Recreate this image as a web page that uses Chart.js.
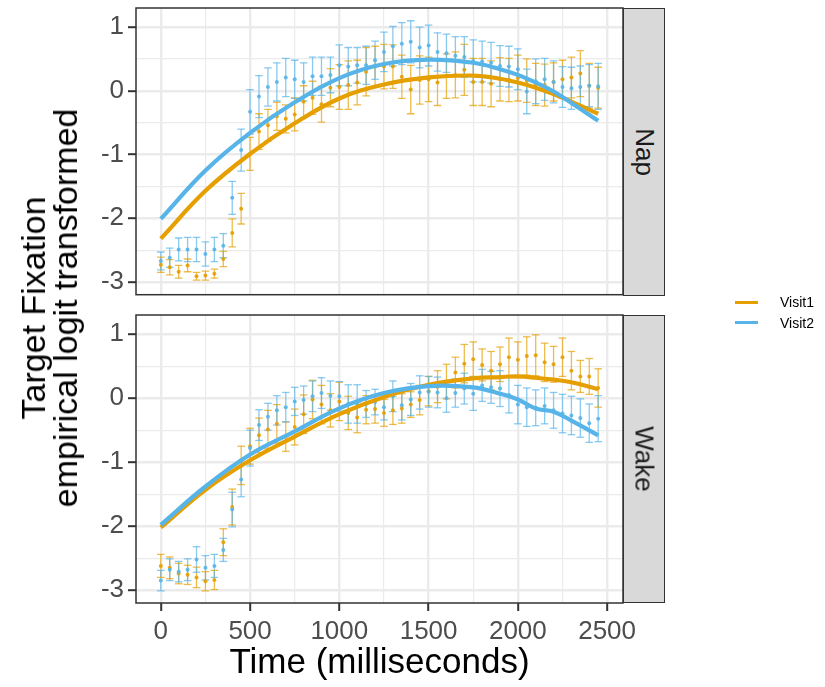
<!DOCTYPE html>
<html lang="en">
<head>
<meta charset="UTF-8">
<title>Target fixation by visit</title>
<script src="https://cdn.jsdelivr.net/npm/chart.js@4.4.1/dist/chart.umd.min.js"></script>
<style>
  body { margin: 0; background: #fff; font-family: "Liberation Sans", Arial, sans-serif; }
  #wrap { position: relative; width: 825px; height: 687px; overflow: hidden; }
  canvas { position: absolute; left: 0; }
  .strip { position: absolute; left: 623px; width: 42px; background: #d9d9d9; border: 1.5px solid #333; box-sizing: border-box; }
  .strip span { position: absolute; left: 50%; top: 50%; transform: translate(-50%, -50%) rotate(90deg); font-size: 26px; color: #1a1a1a; white-space: nowrap; }
  #ytitle { position: absolute; left: 49px; top: 308px; transform: translate(-50%, -50%) rotate(-90deg); font-size: 34px; line-height: 32px; text-align: center; white-space: nowrap; color: #000; }
  .lg { position: absolute; left: 735px; height: 0; }
  .lg i { position: absolute; left: 0; top: -1.5px; width: 23px; height: 3px; }
  .lg span { position: absolute; left: 45px; top: 0; transform: translateY(-50%); font-size: 14px; white-space: nowrap; color: #000; }
</style>
</head>
<body>
<div id="wrap">
  <canvas id="napChart" width="825" height="300" style="top:0"></canvas>
  <canvas id="wakeChart" width="825" height="387" style="top:300px"></canvas>
  <div id="ytitle"><div>Target Fixation</div><div>empirical logit transformed</div></div>
  <div class="strip" style="top:8px;height:288px"><span>Nap</span></div>
  <div class="strip" style="top:315px;height:288px"><span>Wake</span></div>
  <div id="legend"></div>
</div>
<script>
// time bins (ms)
const times = [0,50,100,150,200,250,300,350,400,450,500,550,600,650,700,750,800,850,900,950,
  1000,1050,1100,1150,1200,1250,1300,1350,1400,1450,1500,1550,1600,1650,1700,1750,1800,1850,1900,1950,
  2000,2050,2100,2150,2200,2250,2300,2350,2400,2450];

const seriesNames = ['Visit1', 'Visit2'];
const seriesColors = ['#E69F00', '#56B4E9'];

const xTicks = [0, 500, 1000, 1500, 2000, 2500];
const xMinor = [250, 750, 1250, 1750, 2250];
const yTicks = [-3, -2, -1, 0, 1];
const yMinor = [-2.5, -1.5, -0.5, 0.5];

// Nap panel: means and error half-widths
const napV1 = [-2.73,-2.77,-2.84,-2.74,-2.91,-2.90,-2.87,-2.64,-2.23,-1.85,
  -0.99,-0.64,-0.54,-0.40,-0.44,-0.37,-0.17,-0.11,-0.21,0.05,
  0.06,0.09,0.13,0.30,0.38,0.38,0.38,0.22,0.02,0.17,
  0.18,0.13,0.23,0.25,0.33,0.14,0.14,0.11,0.18,0.17,
  0.20,0.16,0.10,0.09,0.14,0.18,0.21,0.27,0.08,0.05];
const napV1Err = [0.12,0.12,0.10,0.10,0.06,0.07,0.07,0.12,0.22,0.24,
  0.26,0.28,0.25,0.22,0.22,0.26,0.25,0.26,0.28,0.30,
  0.35,0.38,0.35,0.38,0.32,0.35,0.34,0.34,0.38,0.38,
  0.35,0.36,0.35,0.36,0.40,0.37,0.37,0.36,0.34,0.34,
  0.36,0.34,0.33,0.33,0.30,0.30,0.32,0.36,0.35,0.32];
const napV2 = [-2.67,-2.62,-2.49,-2.49,-2.49,-2.56,-2.49,-2.43,-1.68,-0.93,
  -0.33,-0.09,0.06,0.14,0.21,0.18,0.14,0.23,0.23,0.25,
  0.40,0.38,0.40,0.40,0.48,0.61,0.70,0.74,0.77,0.68,
  0.71,0.61,0.59,0.55,0.53,0.47,0.46,0.44,0.39,0.38,
  0.34,-0.01,0.15,0.18,0.14,0.06,0.04,0.06,0.08,0.07];
const napV2Err = [0.14,0.15,0.18,0.19,0.19,0.19,0.19,0.19,0.26,0.33,
  0.35,0.33,0.30,0.30,0.30,0.30,0.30,0.30,0.30,0.28,
  0.32,0.30,0.28,0.30,0.30,0.31,0.31,0.33,0.33,0.32,
  0.32,0.30,0.30,0.30,0.32,0.33,0.32,0.32,0.32,0.32,
  0.32,0.35,0.35,0.33,0.33,0.32,0.33,0.33,0.33,0.36];

// Wake panel
const wakeV1 = [-2.62,-2.65,-2.74,-2.76,-2.80,-2.86,-2.84,-2.25,-1.70,-1.05,
  -0.75,-0.58,-0.49,-0.40,-0.60,-0.45,-0.25,-0.02,-0.10,-0.19,
  -0.05,-0.23,-0.30,-0.18,-0.17,-0.23,-0.19,-0.16,-0.10,-0.03,
  0.11,0.18,0.26,0.40,0.54,0.61,0.52,0.43,0.53,0.64,
  0.60,0.66,0.67,0.56,0.53,0.64,0.43,0.34,0.34,0.16];
const wakeV1Err = [0.18,0.17,0.16,0.15,0.16,0.15,0.15,0.21,0.28,0.30,
  0.28,0.27,0.30,0.30,0.23,0.28,0.30,0.30,0.30,0.26,
  0.30,0.26,0.24,0.22,0.22,0.21,0.22,0.23,0.20,0.23,
  0.23,0.25,0.27,0.24,0.30,0.27,0.25,0.30,0.27,0.30,
  0.28,0.30,0.32,0.30,0.28,0.30,0.30,0.25,0.28,0.30];
const wakeV2 = [-2.85,-2.68,-2.71,-2.68,-2.52,-2.65,-2.62,-2.37,-1.74,-1.27,
  -0.78,-0.42,-0.29,-0.19,-0.14,-0.05,-0.03,0.03,0.08,0.04,
  0.03,-0.09,-0.09,-0.09,-0.06,-0.14,0.03,-0.11,-0.02,0.09,
  0.10,0.09,0.00,0.08,0.15,0.07,0.20,0.17,0.15,0.05,
  -0.10,-0.14,-0.15,-0.12,-0.19,-0.24,-0.27,-0.31,-0.39,-0.32];
const wakeV2Err = [0.16,0.17,0.16,0.17,0.20,0.19,0.18,0.18,0.27,0.27,
  0.28,0.24,0.21,0.23,0.23,0.22,0.22,0.24,0.24,0.23,
  0.23,0.30,0.30,0.21,0.20,0.20,0.24,0.23,0.25,0.26,
  0.24,0.24,0.22,0.22,0.24,0.26,0.25,0.25,0.28,0.28,
  0.30,0.30,0.28,0.28,0.28,0.30,0.30,0.30,0.30,0.36];

// fitted curves
const fitTime = [0,250,500,750,1000,1250,1500,1750,1900,2000,2100,2200,2300,2450];
const napV1Fit  = [-2.32,-1.57,-0.99,-0.51,-0.12,0.10,0.21,0.24,0.19,0.13,0.05,-0.05,-0.17,-0.36];
const napV2Fit  = [-2.01,-1.25,-0.66,-0.18,0.20,0.42,0.49,0.44,0.34,0.25,0.13,-0.01,-0.19,-0.47];
const wakeV1Fit = [-2.02,-1.43,-0.97,-0.60,-0.25,0.02,0.21,0.31,0.33,0.34,0.32,0.29,0.25,0.14];
const wakeV2Fit = [-1.98,-1.38,-0.88,-0.52,-0.16,0.08,0.19,0.17,0.07,-0.02,-0.16,-0.21,-0.35,-0.58];

Chart.defaults.font.family = "'Liberation Sans', Arial, sans-serif";

function rgba(hex, a) {
  const n = parseInt(hex.slice(1), 16);
  return `rgba(${n >> 16},${(n >> 8) & 255},${n & 255},${a})`;
}

const xGrid = xTicks.concat(xMinor).sort((a, b) => a - b);
const yGrid = yTicks.concat(yMinor).sort((a, b) => a - b);
const isMajor = (list) => (ctx) => ctx.tick && list.includes(ctx.tick.value);

const panelBorder = {
  id: 'panelBorder',
  afterDatasetsDraw(chart) {
    const { ctx, chartArea: a } = chart;
    ctx.save();
    ctx.strokeStyle = '#333';
    ctx.lineWidth = 1.5;
    ctx.strokeRect(a.left, a.top, a.right - a.left, a.bottom - a.top);
    ctx.restore();
  }
};

function makePanel(id, v1, v1Err, v2, v2Err, v1Fit, v2Fit, isBottom) {
  const groups = [
    { mean: v1, err: v1Err, fit: v1Fit, color: seriesColors[0] },
    { mean: v2, err: v2Err, fit: v2Fit, color: seriesColors[1] }
  ];
  const datasets = [];
  groups.forEach((g, k) => {
    datasets.push({
      type: 'line',
      data: fitTime.map((t, i) => ({ x: t, y: g.fit[i] })),
      borderColor: g.color, borderWidth: 4.2, pointRadius: 0,
      tension: 0.4, order: 2 - k
    });
    datasets.push({
      type: 'scatter',
      data: times.map((t, i) => ({ x: t, y: g.mean[i] })),
      pointRadius: 2, pointBorderWidth: 0,
      pointBackgroundColor: rgba(g.color, 0.9), order: 10 - k
    });
    datasets.push({
      type: 'scatter',
      data: times.flatMap((t, i) => [
        { x: t, y: g.mean[i] - g.err[i] },
        { x: t, y: g.mean[i] + g.err[i] }
      ]),
      pointStyle: 'line', pointRadius: 3.8, pointBorderWidth: 1.3,
      pointBorderColor: rgba(g.color, 0.7), order: 20 - k
    });
    datasets.push({
      type: 'bar',
      data: times.map((t, i) => ({ x: t, y: [g.mean[i] - g.err[i], g.mean[i] + g.err[i]] })),
      backgroundColor: rgba(g.color, 0.7), borderWidth: 0,
      grouped: false, maxBarThickness: 1.3, order: 30 - k
    });
  });

  return new Chart(document.getElementById(id), {
    type: 'scatter',
    data: { datasets },
    options: {
      responsive: false,
      animation: false,
      events: [],
      layout: { padding: { left: 0, right: 202, top: isBottom ? 15 : 8, bottom: 0 } },
      plugins: { legend: { display: false }, tooltip: { enabled: false } },
      scales: {
        x: {
          type: 'linear', min: -139, max: 2589, offset: false,
          afterBuildTicks: s => { s.ticks = xGrid.map(v => ({ value: v })); },
          afterFit: s => { s.height = isBottom ? 84 : 4; s.paddingLeft = 0; s.paddingRight = 0; },
          grid: {
            offset: false, color: '#ebebeb',
            lineWidth: ctx => isMajor(xTicks)(ctx) ? 2.4 : 1.2,
            drawTicks: isBottom, tickLength: 8, tickWidth: 2,
            tickColor: ctx => isMajor(xTicks)(ctx) ? '#333' : 'rgba(0,0,0,0)'
          },
          border: { display: false },
          ticks: {
            display: isBottom, autoSkip: false, maxRotation: 0, padding: 5,
            color: '#4d4d4d', font: { size: 26 },
            callback: v => xTicks.includes(v) ? String(v) : ''
          },
          title: {
            display: isBottom, text: 'Time (milliseconds)', color: '#000',
            font: { size: 35 }, padding: { top: 0, bottom: 3 }
          }
        },
        y: {
          type: 'linear', min: -3.2, max: 1.3, offset: false,
          afterBuildTicks: s => { s.ticks = yGrid.map(v => ({ value: v })); },
          afterFit: s => { s.width = 136; s.paddingTop = 0; s.paddingBottom = 0; },
          grid: {
            color: '#ebebeb',
            lineWidth: ctx => isMajor(yTicks)(ctx) ? 2.4 : 1.2,
            tickLength: 8, tickWidth: 2,
            tickColor: ctx => isMajor(yTicks)(ctx) ? '#333' : 'rgba(0,0,0,0)'
          },
          border: { display: false },
          ticks: {
            autoSkip: false, padding: 4, color: '#4d4d4d', font: { size: 26 },
            callback: v => yTicks.includes(v) ? String(v) : ''
          }
        }
      }
    },
    plugins: [panelBorder]
  });
}

makePanel('napChart', napV1, napV1Err, napV2, napV2Err, napV1Fit, napV2Fit, false);
makePanel('wakeChart', wakeV1, wakeV1Err, wakeV2, wakeV2Err, wakeV1Fit, wakeV2Fit, true);

const legend = document.getElementById('legend');
seriesNames.forEach((name, k) => {
  const row = document.createElement('div');
  row.className = 'lg';
  row.style.top = (302 + 20.5 * k) + 'px';
  row.innerHTML = `<i style="background:${seriesColors[k]}"></i><span>${name}</span>`;
  legend.appendChild(row);
});
</script>
</body>
</html>
